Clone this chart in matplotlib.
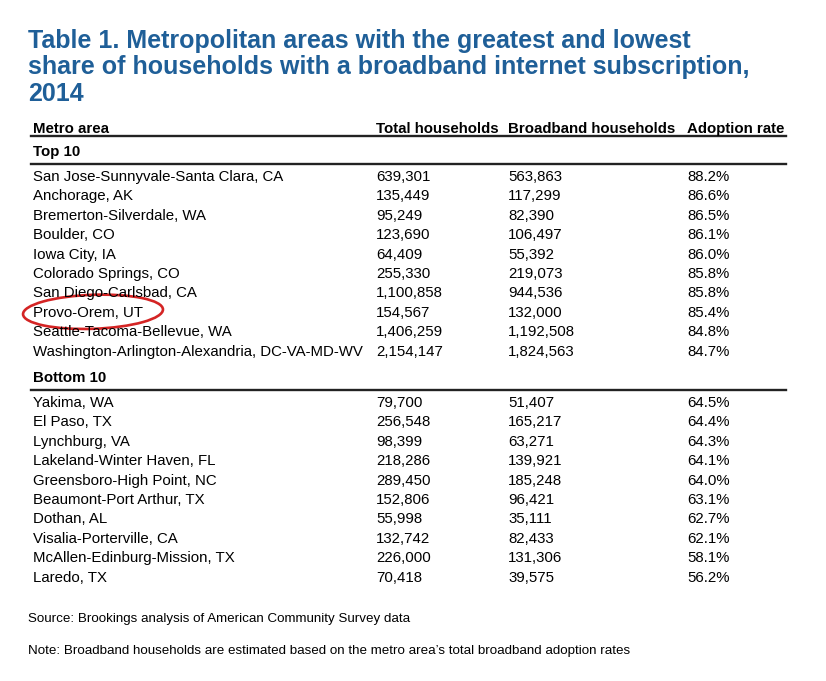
import matplotlib.pyplot as plt
from matplotlib.patches import Ellipse

# Table data
title = ("Table 1. Metropolitan areas with the greatest and lowest\n"
         "share of households with a broadband internet subscription,\n"
         "2014")
headers = ["Metro area", "Total households", "Broadband households", "Adoption rate"]

top_metros = ["San Jose-Sunnyvale-Santa Clara, CA", "Anchorage, AK", "Bremerton-Silverdale, WA",
              "Boulder, CO", "Iowa City, IA", "Colorado Springs, CO", "San Diego-Carlsbad, CA",
              "Provo-Orem, UT", "Seattle-Tacoma-Bellevue, WA",
              "Washington-Arlington-Alexandria, DC-VA-MD-WV"]
top_total = ["639,301", "135,449", "95,249", "123,690", "64,409", "255,330", "1,100,858",
             "154,567", "1,406,259", "2,154,147"]
top_broadband = ["563,863", "117,299", "82,390", "106,497", "55,392", "219,073", "944,536",
                 "132,000", "1,192,508", "1,824,563"]
top_rate = ["88.2%", "86.6%", "86.5%", "86.1%", "86.0%", "85.8%", "85.8%", "85.4%", "84.8%", "84.7%"]

bottom_metros = ["Yakima, WA", "El Paso, TX", "Lynchburg, VA", "Lakeland-Winter Haven, FL",
                 "Greensboro-High Point, NC", "Beaumont-Port Arthur, TX", "Dothan, AL",
                 "Visalia-Porterville, CA", "McAllen-Edinburg-Mission, TX", "Laredo, TX"]
bottom_total = ["79,700", "256,548", "98,399", "218,286", "289,450", "152,806", "55,998",
                "132,742", "226,000", "70,418"]
bottom_broadband = ["51,407", "165,217", "63,271", "139,921", "185,248", "96,421", "35,111",
                    "82,433", "131,306", "39,575"]
bottom_rate = ["64.5%", "64.4%", "64.3%", "64.1%", "64.0%", "63.1%", "62.7%", "62.1%", "58.1%", "56.2%"]

source = "Source: Brookings analysis of American Community Survey data"
note = "Note: Broadband households are estimated based on the metro area\u2019s total broadband adoption rates"
highlight = "Provo-Orem, UT"

plt.rcParams["font.family"] = ["Liberation Sans", "DejaVu Sans"]

fig = plt.figure(figsize=(8.26, 6.81), dpi=100)
ax = fig.add_axes([0, 0, 1, 1])
ax.set_xlim(0, 826)
ax.set_ylim(681, 0)
ax.axis("off")

blue = "#1f5f98"
col_x = [33, 376, 508, 687]
line_x0, line_x1 = 31, 786
row_h = 19.4
fs = 10.8

ax.text(28, 29, title, color=blue, fontsize=18, fontweight="bold",
        va="top", ha="left", linespacing=1.13)

for x, h in zip(col_x, headers):
    ax.text(x, 129, h, fontsize=fs, fontweight="bold", va="center")
ax.plot([line_x0, line_x1], [136, 136], color="#222222", lw=1.7)


def section(label, y_label, y_line, y_first, metros, total, broadband, rate):
    ax.text(col_x[0], y_label, label, fontsize=fs, fontweight="bold", va="center")
    ax.plot([line_x0, line_x1], [y_line, y_line], color="#222222", lw=1.7)
    for i, row in enumerate(zip(metros, total, broadband, rate)):
        y = y_first + i * row_h
        for x, v in zip(col_x, row):
            ax.text(x, y, v, fontsize=fs, va="center")
        if row[0] == highlight:
            ax.add_patch(Ellipse((93, y - 1), 140, 34, angle=-2, fill=False,
                                 edgecolor="#d42424", lw=1.9))


section("Top 10", 152, 164, 177, top_metros, top_total, top_broadband, top_rate)
section("Bottom 10", 378, 390, 403, bottom_metros, bottom_total, bottom_broadband, bottom_rate)

ax.text(28, 619, source, fontsize=9.65, va="center")
ax.text(28, 651, note, fontsize=9.65, va="center")

fig.savefig("out.png", dpi=100)
